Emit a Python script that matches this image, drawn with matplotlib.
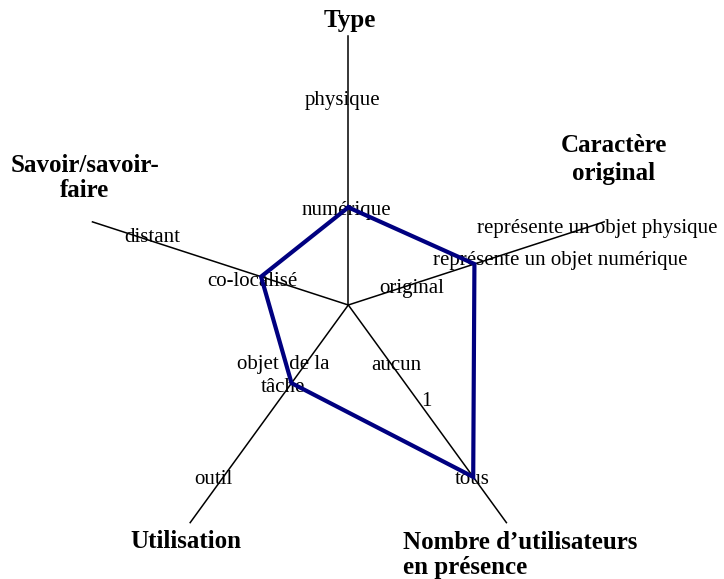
import numpy as np
import matplotlib
matplotlib.use("Agg")
import matplotlib.pyplot as plt

plt.rcParams['font.family'] = ['Liberation Serif', 'DejaVu Serif']

# Axes of the radar (clockwise from the top)
axis_names = ["Type", "Caractère\noriginal", "Nombre d’utilisateurs\nen présence",
              "Utilisation", "Savoir/savoir-\nfaire"]
# Profile values (fraction of the axis length)
values = [0.363, 0.493, 0.79, 0.359, 0.341]

# Level labels written along each axis: (text, x, y) in pixel coordinates
level_labels = [
    ("physique", 343, 100),
    ("numérique", 346, 211),
    ("représente un objet physique", 597, 228),
    ("représente un objet numérique", 560, 261),
    ("original", 412, 288),
    ("aucun", 396, 365),
    ("1", 426, 401),
    ("tous", 472, 480),
    ("objet  de la", 283, 365),
    ("tâche", 283, 388),
    ("outil", 213, 480),
    ("distant", 152, 237),
    ("co-localisé", 252, 281),
]

W, H = 724, 579
cx, cy, R = 348.3, 305.0, 269.0

fig = plt.figure(figsize=(W / 100, H / 100), dpi=100)
ax = fig.add_axes([0, 0, 1, 1])
ax.set_xlim(0, W)
ax.set_ylim(H, 0)
ax.axis('off')

n = len(axis_names)
theta = np.deg2rad(np.arange(n) * 360.0 / n)
ex = cx + R * np.sin(theta)
ey = cy - R * np.cos(theta)

for x1, y1 in zip(ex, ey):
    ax.plot([cx, x1], [cy, y1], color='black', lw=1.1, zorder=2)

vals = np.array(values)
px = cx + vals * R * np.sin(theta)
py = cy - vals * R * np.cos(theta)
ax.plot(np.append(px, px[0]), np.append(py, py[0]), color='#000080', lw=3.0,
        solid_joinstyle='miter', zorder=3)

for txt, x, y in level_labels:
    ax.text(x, y, txt, fontsize=15, ha='center', va='center', zorder=1)

# Axis titles: (x, y, alignment, line spacing)
title_pos = [(349.7, 21, 'center', 1.1),
             (613.7, 159.5, 'center', 1.28),
             (403, 555, 'left', 1.15),
             (186.3, 542, 'center', 1.1),
             (85, 178, 'center', 1.15)]
for name, (x, y, ha, ls) in zip(axis_names, title_pos):
    ax.text(x, y, name, fontsize=18, fontweight='bold', ha=ha, va='center',
            multialignment=ha, linespacing=ls)

fig.savefig("out.png", dpi=100)
